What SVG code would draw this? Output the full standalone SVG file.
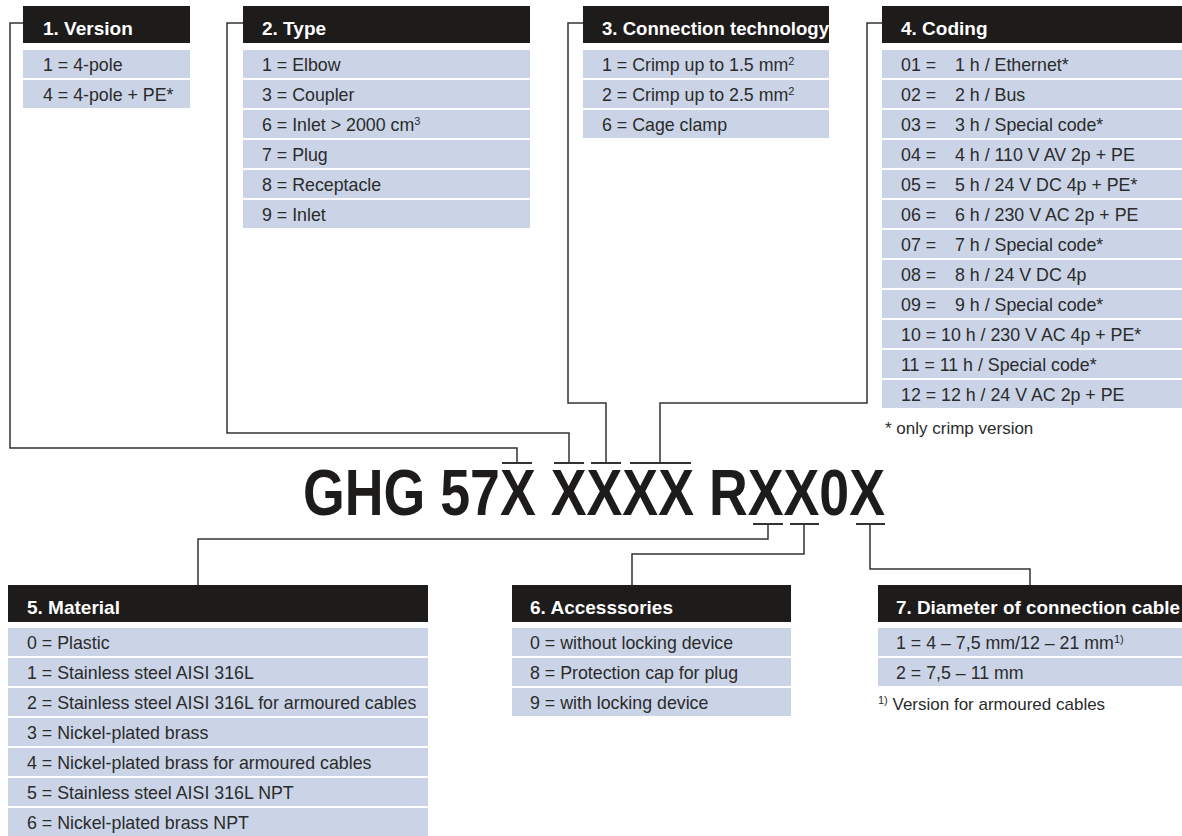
<svg xmlns="http://www.w3.org/2000/svg" width="1182" height="836" viewBox="0 0 1182 836">
<style>
.hd{fill:#1e1b1b}
.row{fill:#cad4e6}
.ht{font-family:"Liberation Sans",Arial,sans-serif;font-weight:bold;font-size:19px;fill:#ffffff}
.rt{font-family:"Liberation Sans",Arial,sans-serif;font-size:17.8px;fill:#2b2b2b}
.fn{font-family:"Liberation Sans",Arial,sans-serif;font-size:17px;fill:#2b2b2b}
.sup{font-size:11px}
.con{fill:none;stroke:#333333;stroke-width:1.5}
.brk{fill:none;stroke:#333333;stroke-width:2}
.big{font-family:"Liberation Sans",Arial,sans-serif;font-weight:bold;font-size:64px;fill:#1e1b1b}
</style>
<rect width="1182" height="836" fill="#ffffff"/>

<g id="connectors">
  <path class="con" d="M23,23 H10 V448 H517 V463"/>
  <path class="con" d="M243,23 H227 V433 H569 V463"/>
  <path class="con" d="M583,23 H568 V403 H606 V463"/>
  <path class="con" d="M882,23 H867 V403 H660 V463"/>
  <path class="brk" d="M502,463 H532 M554,463 H584 M591,463 H621 M630,463 H691"/>
  <path class="brk" d="M753,524 H783 M790,524 H819 M856,524 H885"/>
  <path class="con" d="M768,524 V539 H198 V585"/>
  <path class="con" d="M804,524 V554 H632 V585"/>
  <path class="con" d="M870,524 V569 H1030 V585"/>
</g>

<g id="code">
  <text class="big" x="303" y="515" textLength="582" lengthAdjust="spacingAndGlyphs">GHG 57X XXXX RXX0X</text>
</g>

<g id="version">
  <rect class="hd" x="23" y="6" width="167" height="37"/>
  <text class="ht" x="43" y="35">1. Version</text>
  <rect class="row" x="23" y="50" width="167" height="28"/>
  <text class="rt" x="43" y="71">1 = 4-pole</text>
  <rect class="row" x="23" y="80" width="167" height="28"/>
  <text class="rt" x="43" y="101">4 = 4-pole + PE*</text>
</g>

<g id="type">
  <rect class="hd" x="243" y="6" width="287" height="37"/>
  <text class="ht" x="262" y="35">2. Type</text>
  <rect class="row" x="243" y="50" width="287" height="28"/>
  <text class="rt" x="262" y="71">1 = Elbow</text>
  <rect class="row" x="243" y="80" width="287" height="28"/>
  <text class="rt" x="262" y="101">3 = Coupler</text>
  <rect class="row" x="243" y="110" width="287" height="28"/>
  <text class="rt" x="262" y="131">6 = Inlet &gt; 2000 cm<tspan class="sup" dy="-6">3</tspan></text>
  <rect class="row" x="243" y="140" width="287" height="28"/>
  <text class="rt" x="262" y="161">7 = Plug</text>
  <rect class="row" x="243" y="170" width="287" height="28"/>
  <text class="rt" x="262" y="191">8 = Receptacle</text>
  <rect class="row" x="243" y="200" width="287" height="28"/>
  <text class="rt" x="262" y="221">9 = Inlet</text>
</g>

<g id="connection">
  <rect class="hd" x="583" y="6" width="246" height="37"/>
  <text class="ht" x="602" y="35" textLength="227" lengthAdjust="spacingAndGlyphs">3. Connection technology</text>
  <rect class="row" x="583" y="50" width="246" height="28"/>
  <text class="rt" x="602" y="71">1 = Crimp up to 1.5 mm<tspan class="sup" dy="-6">2</tspan></text>
  <rect class="row" x="583" y="80" width="246" height="28"/>
  <text class="rt" x="602" y="101">2 = Crimp up to 2.5 mm<tspan class="sup" dy="-6">2</tspan></text>
  <rect class="row" x="583" y="110" width="246" height="28"/>
  <text class="rt" x="602" y="131">6 = Cage clamp</text>
</g>

<g id="coding">
  <rect class="hd" x="882" y="6" width="300" height="37"/>
  <text class="ht" x="901" y="35">4. Coding</text>
  <rect class="row" x="882" y="50" width="300" height="28"/>
  <rect class="row" x="882" y="80" width="300" height="28"/>
  <rect class="row" x="882" y="110" width="300" height="28"/>
  <rect class="row" x="882" y="140" width="300" height="28"/>
  <rect class="row" x="882" y="170" width="300" height="28"/>
  <rect class="row" x="882" y="200" width="300" height="28"/>
  <rect class="row" x="882" y="230" width="300" height="28"/>
  <rect class="row" x="882" y="260" width="300" height="28"/>
  <rect class="row" x="882" y="290" width="300" height="28"/>
  <rect class="row" x="882" y="320" width="300" height="28"/>
  <rect class="row" x="882" y="350" width="300" height="28"/>
  <rect class="row" x="882" y="380" width="300" height="28"/>
  <text class="rt" x="901" y="71">01 =</text><text class="rt" x="955" y="71">1 h / Ethernet*</text>
  <text class="rt" x="901" y="101">02 =</text><text class="rt" x="955" y="101">2 h / Bus</text>
  <text class="rt" x="901" y="131">03 =</text><text class="rt" x="955" y="131">3 h / Special code*</text>
  <text class="rt" x="901" y="161">04 =</text><text class="rt" x="955" y="161">4 h / 110 V AV 2p + PE</text>
  <text class="rt" x="901" y="191">05 =</text><text class="rt" x="955" y="191">5 h / 24 V DC 4p + PE*</text>
  <text class="rt" x="901" y="221">06 =</text><text class="rt" x="955" y="221">6 h / 230 V AC 2p + PE</text>
  <text class="rt" x="901" y="251">07 =</text><text class="rt" x="955" y="251">7 h / Special code*</text>
  <text class="rt" x="901" y="281">08 =</text><text class="rt" x="955" y="281">8 h / 24 V DC 4p</text>
  <text class="rt" x="901" y="311">09 =</text><text class="rt" x="955" y="311">9 h / Special code*</text>
  <text class="rt" x="901" y="341">10 = 10 h / 230 V AC 4p + PE*</text>
  <text class="rt" x="901" y="371">11 = 11 h / Special code*</text>
  <text class="rt" x="901" y="401">12 = 12 h / 24 V AC 2p + PE</text>
  <text class="fn" x="885" y="434">* only crimp version</text>
</g>

<g id="material">
  <rect class="hd" x="8" y="585" width="420" height="37"/>
  <text class="ht" x="27" y="614">5. Material</text>
  <rect class="row" x="8" y="628" width="420" height="28"/>
  <text class="rt" x="27" y="649">0 = Plastic</text>
  <rect class="row" x="8" y="658" width="420" height="28"/>
  <text class="rt" x="27" y="679">1 = Stainless steel AISI 316L</text>
  <rect class="row" x="8" y="688" width="420" height="28"/>
  <text class="rt" x="27" y="709">2 = Stainless steel AISI 316L for armoured cables</text>
  <rect class="row" x="8" y="718" width="420" height="28"/>
  <text class="rt" x="27" y="739">3 = Nickel-plated brass</text>
  <rect class="row" x="8" y="748" width="420" height="28"/>
  <text class="rt" x="27" y="769">4 = Nickel-plated brass for armoured cables</text>
  <rect class="row" x="8" y="778" width="420" height="28"/>
  <text class="rt" x="27" y="799">5 = Stainless steel AISI 316L NPT</text>
  <rect class="row" x="8" y="808" width="420" height="28"/>
  <text class="rt" x="27" y="829">6 = Nickel-plated brass NPT</text>
</g>

<g id="accessories">
  <rect class="hd" x="512" y="585" width="279" height="37"/>
  <text class="ht" x="530" y="614">6. Accesssories</text>
  <rect class="row" x="512" y="628" width="279" height="28"/>
  <text class="rt" x="530" y="649">0 = without locking device</text>
  <rect class="row" x="512" y="658" width="279" height="28"/>
  <text class="rt" x="530" y="679">8 = Protection cap for plug</text>
  <rect class="row" x="512" y="688" width="279" height="28"/>
  <text class="rt" x="530" y="709">9 = with locking device</text>
</g>

<g id="diameter">
  <rect class="hd" x="878" y="585" width="304" height="37"/>
  <text class="ht" x="896" y="614" textLength="284" lengthAdjust="spacingAndGlyphs">7. Diameter of connection cable</text>
  <rect class="row" x="878" y="628" width="304" height="28"/>
  <text class="rt" x="896" y="649">1 = 4 – 7,5 mm/12 – 21 mm<tspan class="sup" dy="-6">1)</tspan></text>
  <rect class="row" x="878" y="658" width="304" height="28"/>
  <text class="rt" x="896" y="679">2 = 7,5 – 11 mm</text>
  <text class="fn" x="878" y="710"><tspan class="sup" dy="-6">1)</tspan><tspan dy="6"> Version for armoured cables</tspan></text>
</g>
</svg>
